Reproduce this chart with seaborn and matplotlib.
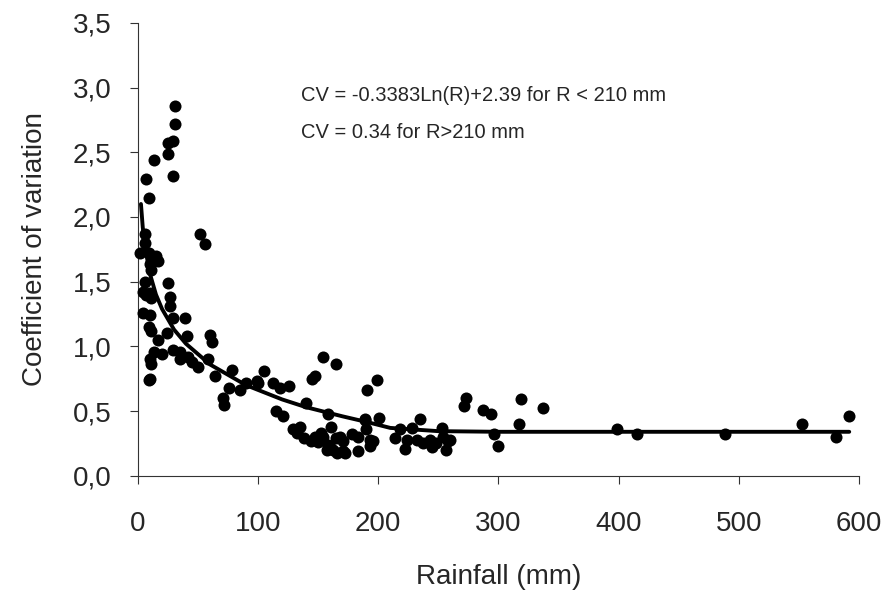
import numpy as np
import pandas as pd
import matplotlib
matplotlib.use("Agg")
import matplotlib.pyplot as plt
from matplotlib.ticker import FuncFormatter
import seaborn as sns

rain = [31, 31, 29, 25, 25, 13, 29, 7, 9, 52, 56,
        6, 6, 2, 9, 15, 17, 10, 10.5, 6, 25, 4, 10, 27, 7, 11, 27, 4, 10, 29, 39,
        9, 11, 24, 41, 60, 62, 17, 13, 20, 29, 35, 35, 10, 11, 10, 9, 58, 50, 45, 42,
        78, 64, 71, 72, 76, 85, 90, 99, 100, 105, 112, 118, 126, 115, 121, 140,
        145, 147, 154, 165, 158, 191, 199, 189, 201,
        129, 132, 135, 138, 144, 147, 150, 152, 154, 157, 158, 160, 161, 162, 165, 166,
        168, 171, 171, 172, 178, 183, 183, 189, 190, 193, 193, 196,
        214, 218, 222, 224, 228, 232, 235, 237, 243, 245, 248, 253, 254, 256, 258, 260,
        271, 273, 287, 294, 319, 337, 317, 296, 300,
        399, 415, 489, 553, 581, 592]
cv = [2.86, 2.72, 2.59, 2.57, 2.49, 2.44, 2.32, 2.29, 2.15, 1.87, 1.79,
      1.87, 1.80, 1.72, 1.72, 1.70, 1.66, 1.64, 1.59, 1.50, 1.49, 1.42, 1.41, 1.38, 1.40, 1.37, 1.31, 1.26, 1.24, 1.22, 1.22,
      1.15, 1.12, 1.10, 1.08, 1.09, 1.03, 1.05, 0.96, 0.94, 0.97, 0.96, 0.90, 0.90, 0.86, 0.75, 0.74, 0.90, 0.84, 0.88, 0.92,
      0.82, 0.77, 0.60, 0.55, 0.68, 0.66, 0.72, 0.73, 0.72, 0.81, 0.72, 0.68, 0.69, 0.50, 0.46, 0.56,
      0.75, 0.77, 0.92, 0.86, 0.48, 0.66, 0.74, 0.44, 0.45,
      0.36, 0.33, 0.38, 0.29, 0.27, 0.30, 0.26, 0.33, 0.30, 0.20, 0.24, 0.22, 0.38, 0.20, 0.29, 0.18,
      0.30, 0.19, 0.27, 0.18, 0.32, 0.30, 0.19, 0.43, 0.36, 0.28, 0.23, 0.27,
      0.29, 0.36, 0.21, 0.28, 0.37, 0.28, 0.44, 0.25, 0.28, 0.22, 0.25, 0.37, 0.30, 0.20, 0.27, 0.28,
      0.54, 0.60, 0.51, 0.48, 0.59, 0.52, 0.40, 0.32, 0.23,
      0.36, 0.32, 0.32, 0.40, 0.30, 0.46]

# Trend line as drawn in the figure
trend_rain = [2.5, 4, 6, 10, 15, 20, 30, 40, 60, 90, 120, 140, 170, 193, 210, 250, 300, 400, 500, 592]
trend_cv = [2.10, 1.92, 1.76, 1.56, 1.40, 1.29, 1.13, 1.02, 0.86, 0.70, 0.59, 0.53, 0.46, 0.41, 0.37, 0.345, 0.34, 0.34, 0.34, 0.34]

eq_lines = ["CV = -0.3383Ln(R)+2.39 for R < 210 mm", "CV = 0.34 for R>210 mm"]

df = pd.DataFrame({"Rainfall": rain, "CV": cv})
trend = pd.DataFrame({"Rainfall": trend_rain, "CV": trend_cv})

sns.set_style("ticks")
plt.rcParams["font.family"] = ["Liberation Sans", "DejaVu Sans"]

fig = plt.figure(figsize=(8.9, 6), dpi=100)
ax = fig.add_axes([0.155, 0.207, 0.81, 0.755])

sns.scatterplot(data=df, x="Rainfall", y="CV", ax=ax, color="black", s=75,
                edgecolor="black", linewidth=0, clip_on=False, zorder=3)
sns.lineplot(data=trend, x="Rainfall", y="CV", ax=ax, color="black", linewidth=2.8, zorder=4)

ax.set_xlim(0, 600)
ax.set_ylim(0, 3.5)
ax.set_xticks(range(0, 601, 100))
ax.set_yticks(np.arange(0, 3.51, 0.5))
ax.yaxis.set_major_formatter(FuncFormatter(lambda v, p: f"{v:.1f}".replace(".", ",")))
ax.tick_params(labelsize=20, length=6, width=0.8, color="#333333")
ax.tick_params(axis="x", pad=19)
ax.tick_params(axis="y", pad=13)

sns.despine(ax=ax)
for sp in ["left", "bottom"]:
    ax.spines[sp].set_linewidth(0.8)
    ax.spines[sp].set_color("#333333")

ax.set_xlabel("Rainfall (mm)", fontsize=20, labelpad=20)
ax.set_ylabel("Coefficient of variation", fontsize=20, labelpad=18)

ax.text(136, 2.94, eq_lines[0], fontsize=14.5, va="center", ha="left")
ax.text(136, 2.65, eq_lines[1], fontsize=14.5, va="center", ha="left")

plt.savefig("out.png", dpi=100)
plt.close()
